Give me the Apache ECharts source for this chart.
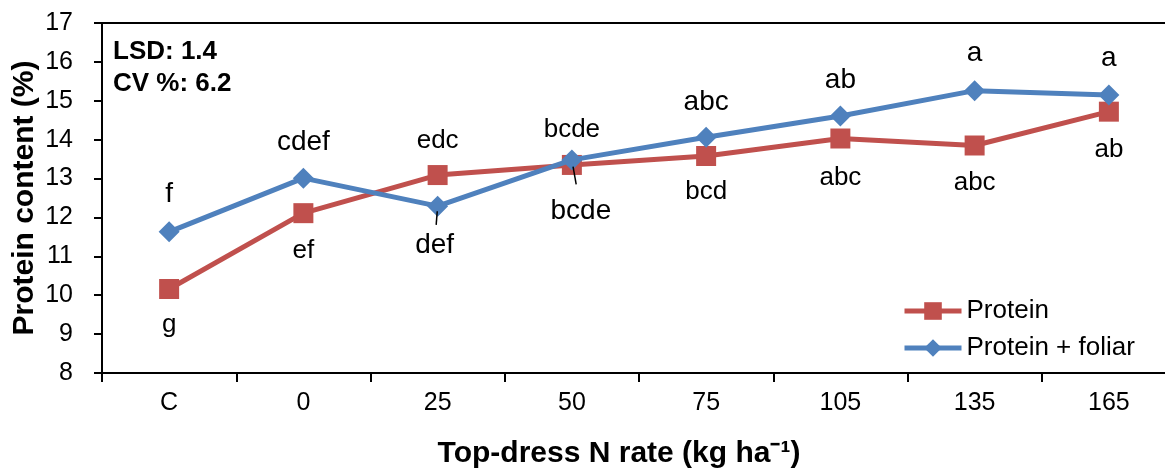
<!DOCTYPE html>
<html>
<head>
<meta charset="utf-8">
<script src="https://cdn.jsdelivr.net/npm/echarts@6/dist/echarts.min.js"></script>
<style>
html,body{margin:0;padding:0;background:#fff;}
#chart{width:1165px;height:468px;}
</style>
</head>
<body>
<div id="chart"></div>
<script>
// ---- data ----
const categories = ['C', '0', '25', '50', '75', '105', '135', '165'];
const protein = [10.16, 12.11, 13.09, 13.35, 13.58, 14.03, 13.85, 14.72];
const proteinFoliar = [11.63, 13.01, 12.29, 13.48, 14.06, 14.61, 15.26, 15.15];
const proteinLetters = ['g', 'ef', 'edc', 'bcde', 'bcd', 'abc', 'abc', 'ab'];
const foliarLetters = ['f', 'cdef', 'def', 'bcde', 'abc', 'ab', 'a', 'a'];
const yMin = 8, yMax = 17, yStep = 1;
const statsText = ['LSD: 1.4', 'CV %: 6.2'];
const seriesNames = ['Protein', 'Protein + foliar'];
const xTitle = 'Top-dress N rate (kg ha\u207B\u00B9)';
const yTitle = 'Protein content (%)';

// ---- layout / style ----
const FONT = "'Liberation Sans', Arial, sans-serif";
const RED = '#C0504D', BLUE = '#4F81BD';
// label offsets (px, from marker centre)
const redOffsets = [[0, 36], [0, 38], [0, -34], [0, -35], [0, 36], [0, 39], [0, 37], [0, 38]];
const blueOffsets = [[0, -38], [0, -36], [-3, 39], [9, 51], [0, -35], [0, -36], [0, -37], [0, -37]];
const leaderIdx = [2, 3]; // blue labels with leader lines

function buildData(vals, letters, offs, size) {
  return vals.map((v, i) => ({
    value: v,
    label: { show: true, formatter: letters[i], position: 'inside', offset: offs[i],
             fontSize: size, color: '#000', fontFamily: FONT }
  }));
}

const chart = echarts.init(document.getElementById('chart'), null, { renderer: 'canvas' });
const option = {
  animation: false,
  textStyle: { fontFamily: FONT },
  grid: { left: 102, top: 23, width: 1074, height: 350, containLabel: false, outerBoundsMode: 'none' },
  xAxis: [{
    type: 'category', data: categories, boundaryGap: true, position: 'bottom',
    axisLine: { lineStyle: { color: '#000', width: 2 } },
    axisTick: { show: true, inside: false, length: 9, alignWithLabel: false, lineStyle: { color: '#000', width: 2 } },
    axisLabel: { color: '#000', fontSize: 25, margin: 18, fontFamily: FONT },
    splitLine: { show: false },
    name: xTitle, nameLocation: 'middle', nameGap: 66, nameMoveOverlap: false,
    nameTextStyle: { color: '#000', fontSize: 30, fontWeight: 'bold', fontFamily: FONT, padding: [0, 40, 0, 0] }
  }, {
    type: 'category', data: categories, position: 'top',
    axisLine: { lineStyle: { color: '#000', width: 2 } },
    axisTick: { show: false }, axisLabel: { show: false }, splitLine: { show: false }
  }],
  yAxis: {
    type: 'value', min: yMin, max: yMax, interval: yStep,
    axisLine: { show: true, lineStyle: { color: '#000', width: 2 } },
    axisTick: { show: true, inside: false, length: 8, lineStyle: { color: '#000', width: 2 } },
    axisLabel: { color: '#000', fontSize: 25, margin: 29, fontFamily: FONT },
    splitLine: { show: false },
    name: yTitle, nameLocation: 'middle', nameGap: 62, nameRotate: 90, nameMoveOverlap: false,
    nameTextStyle: { color: '#000', fontSize: 30, fontWeight: 'bold', fontFamily: FONT }
  },
  legend: {
    orient: 'vertical', left: 902, top: 298, padding: 0, itemWidth: 57, itemHeight: 22, itemGap: 11,
    lineStyle: { width: 5 },
    textStyle: { color: '#000', fontSize: 26, fontFamily: FONT },
    data: seriesNames
  },
  series: [{
    name: seriesNames[0], type: 'line', data: buildData(protein, proteinLetters, redOffsets, 26),
    symbol: 'rect', symbolSize: 20,
    lineStyle: { color: RED, width: 5 }, itemStyle: { color: RED },
    z: 2
  }, {
    name: seriesNames[1], type: 'line', data: buildData(proteinFoliar, foliarLetters, blueOffsets, 28),
    symbol: 'diamond', symbolSize: [21, 21],
    lineStyle: { color: BLUE, width: 5 }, itemStyle: { color: BLUE },
    z: 3
  }],
  graphic: [{
    type: 'text', left: 113, top: 36,
    style: { text: statsText.join('\n'), font: 'bold 26px ' + FONT, fill: '#000', lineHeight: 32 }
  }]
};
chart.setOption(option);

// leader lines for displaced labels, computed from the library's scales
const extra = leaderIdx.map(i => {
  const p = chart.convertToPixel({ seriesIndex: 1 }, [i, proteinFoliar[i]]);
  const o = blueOffsets[i];
  const a = 0.13, b = 0.48;
  return {
    type: 'line', z: 100,
    shape: { x1: p[0] + o[0] * a, y1: p[1] + o[1] * a, x2: p[0] + o[0] * b, y2: p[1] + o[1] * b },
    style: { stroke: '#000', lineWidth: 1.5 }
  };
});
chart.setOption({ graphic: option.graphic.concat(extra) });
</script>
</body>
</html>
